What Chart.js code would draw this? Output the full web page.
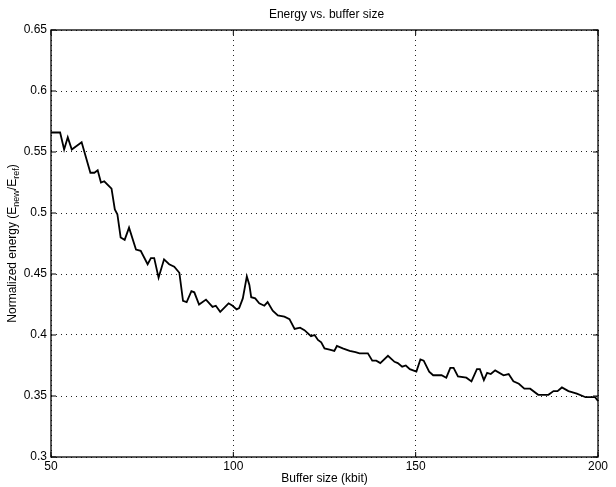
<!DOCTYPE html>
<html>
<head>
<meta charset="utf-8">
<script src="https://cdn.jsdelivr.net/npm/chart.js@4"></script>
<style>
  body { margin: 0; background: #fff; }
  canvas { display: block; }
</style>
</head>
<body>
<canvas id="energyChart" width="616" height="487"></canvas>
<script>
// buffer size (kbit) and normalized energy
const bufferSizes = [
  50.0, 52.5, 53.6, 54.6, 55.7, 58.4, 60.8, 61.9, 62.8, 63.7, 64.6, 66.6,
  67.5, 68.2, 69.1, 70.2, 71.4, 73.3, 74.6, 76.5, 77.4, 78.3, 79.5, 81.0,
  82.4, 83.8, 85.2, 86.2, 87.2, 88.5, 89.3, 90.6, 92.5, 94.3, 95.2, 96.4,
  98.7, 99.8, 100.9, 101.6, 102.6, 103.7, 104.4, 104.9, 106.0, 107.1, 108.5,
  109.4, 110.8, 112.2, 114.0, 115.4, 116.8, 118.3, 119.5, 121.3, 122.3,
  123.2, 124.1, 125.0, 126.4, 127.7, 128.4, 130.0, 131.9, 133.5, 134.6,
  136.9, 138.1, 139.2, 140.3, 142.4, 144.2, 145.1, 146.3, 147.3, 148.4,
  150.2, 151.3, 152.2, 153.7, 154.8, 157.1, 158.4, 159.5, 160.4, 161.6,
  163.9, 165.3, 166.8, 167.6, 168.7, 169.6, 170.6, 171.8, 174.1, 175.5,
  176.8, 178.3, 179.8, 181.4, 183.6, 186.4, 187.8, 188.9, 190.1, 191.9,
  194.2, 196.6, 199.2, 200.0
];
const energies = [
  0.566, 0.566, 0.552, 0.562, 0.552, 0.558, 0.533, 0.533, 0.535, 0.525, 0.526, 0.520,
  0.503, 0.499, 0.480, 0.478, 0.488, 0.470, 0.469, 0.458, 0.463, 0.463, 0.447, 0.462,
  0.458, 0.456, 0.451, 0.428, 0.427, 0.436, 0.435, 0.425, 0.429, 0.423, 0.424, 0.419,
  0.426, 0.424, 0.421, 0.422, 0.430, 0.448, 0.441, 0.431, 0.430, 0.426, 0.424,
  0.427, 0.420, 0.416, 0.415, 0.413, 0.405, 0.406, 0.404, 0.399, 0.400,
  0.396, 0.394, 0.389, 0.388, 0.387, 0.391, 0.389, 0.387, 0.386, 0.385,
  0.385, 0.379, 0.379, 0.377, 0.383, 0.378, 0.377, 0.374, 0.375, 0.372,
  0.370, 0.380, 0.379, 0.370, 0.367, 0.367, 0.365, 0.373, 0.373, 0.366,
  0.365, 0.362, 0.372, 0.372, 0.363, 0.369, 0.368, 0.371, 0.367, 0.368,
  0.362, 0.360, 0.356, 0.356, 0.351, 0.351, 0.354, 0.354, 0.357, 0.354,
  0.352, 0.349, 0.349, 0.346
];
const xTicks = [50, 100, 150, 200];
const yTicks = [0.3, 0.35, 0.4, 0.45, 0.5, 0.55, 0.6, 0.65];

const FONT = "'Liberation Sans', Arial, sans-serif";

// matlab-ish frame, inward tick marks, title and axis labels
const matlabFrame = {
  id: "matlabFrame",
  afterDraw(chart) {
    const { ctx, chartArea: a, scales } = chart;
    ctx.save();
    ctx.strokeStyle = "#000";
    ctx.lineWidth = 1.3;
    ctx.strokeRect(a.left, a.top, a.right - a.left, a.bottom - a.top);

    ctx.lineWidth = 1;
    ctx.beginPath();
    xTicks.forEach((v) => {
      const px = scales.x.getPixelForValue(v);
      ctx.moveTo(px, a.bottom); ctx.lineTo(px, a.bottom - 5);
      ctx.moveTo(px, a.top); ctx.lineTo(px, a.top + 5);
    });
    yTicks.forEach((v) => {
      const py = scales.y.getPixelForValue(v);
      ctx.moveTo(a.left, py); ctx.lineTo(a.left + 5, py);
      ctx.moveTo(a.right, py); ctx.lineTo(a.right - 5, py);
    });
    ctx.stroke();

    ctx.fillStyle = "#000";
    ctx.textAlign = "center";
    ctx.textBaseline = "middle";
    ctx.font = "12px " + FONT;
    const midX = (a.left + a.right) / 2;
    ctx.fillText("Energy vs. buffer size", midX + 2, 15);
    ctx.fillText("Buffer size (kbit)", midX, 479);

    // y label with subscripts
    const parts = [
      ["Normalized energy (E", false],
      ["new", true],
      ["/E", false],
      ["ref", true],
      [")", false],
    ];
    const big = "12px " + FONT, small = "9px " + FONT;
    let total = 0;
    parts.forEach(([t, sub]) => {
      ctx.font = sub ? small : big;
      total += ctx.measureText(t).width;
    });
    ctx.translate(13, (a.top + a.bottom) / 2);
    ctx.rotate(-Math.PI / 2);
    ctx.textAlign = "left";
    let x = -total / 2;
    parts.forEach(([t, sub]) => {
      ctx.font = sub ? small : big;
      ctx.fillText(t, x, sub ? 4 : 0);
      x += ctx.measureText(t).width;
    });
    ctx.restore();
  },
};

new Chart(document.getElementById("energyChart"), {
  type: "line",
  data: {
    datasets: [
      {
        data: bufferSizes.map((b, i) => ({ x: b, y: energies[i] })),
        borderColor: "#000",
        borderWidth: 1.8,
        pointRadius: 0,
        tension: 0,
        fill: false,
      },
    ],
  },
  options: {
    responsive: false,
    animation: false,
    layout: { padding: { left: 0, right: 18, top: 30, bottom: 0 } },
    plugins: { legend: { display: false }, tooltip: { enabled: false } },
    scales: {
      x: {
        type: "linear",
        min: 50,
        max: 200,
        afterFit: (s) => { s.height = 30; },
        afterBuildTicks: (s) => { s.ticks = xTicks.map((v) => ({ value: v })); },
        grid: { color: "#222", lineWidth: 1, drawTicks: false },
        border: { display: false, dash: [1, 4] },
        ticks: {
          color: "#000",
          padding: 2,
          maxRotation: 0,
          font: { family: FONT, size: 12 },
        },
      },
      y: {
        min: 0.3,
        max: 0.65,
        afterFit: (s) => { s.width = 51; },
        afterBuildTicks: (s) => { s.ticks = yTicks.map((v) => ({ value: v })); },
        grid: { color: "#222", lineWidth: 1, drawTicks: false },
        border: { display: false, dash: [1, 4] },
        ticks: {
          color: "#000",
          padding: 4,
          font: { family: FONT, size: 12 },
          callback: (v) => String(Math.round(v * 100) / 100),
        },
      },
    },
  },
  plugins: [matlabFrame],
});
</script>
</body>
</html>
